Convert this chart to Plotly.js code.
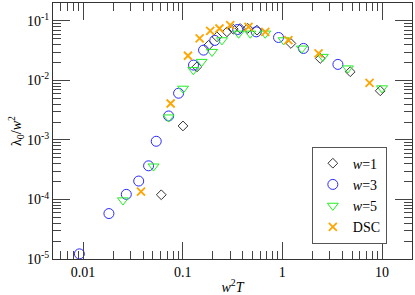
<!DOCTYPE html>
<html>
<head>
<meta charset="utf-8">
<script src="https://cdn.plot.ly/plotly-3.0.1.min.js"></script>
<style>html,body{margin:0;padding:0;background:#fff}</style>
</head>
<body>
<div id="chart" style="width:415px;height:295px;"></div>
<script>
// w=1 (diamonds)
var w1_x = [0.061, 0.1007, 0.139, 0.182, 0.221, 0.278, 0.322, 0.378, 0.45, 0.556, 1.22, 2.40, 4.80, 9.6];
var w1_y = [1.2e-4, 1.72e-3, 0.0169, 0.039, 0.054, 0.0655, 0.0726, 0.0746, 0.075, 0.070, 0.0418, 0.0234, 0.0140, 0.0067];
// w=3 (circles)
var w3_x = [0.0092, 0.0182, 0.0272, 0.0362, 0.0455, 0.0543, 0.0723, 0.091, 0.1285, 0.162, 0.21, 0.356, 0.547, 0.916, 1.63, 3.61];
var w3_y = [1.22e-5, 5.8e-5, 1.22e-4, 2.04e-4, 3.68e-4, 9.5e-4, 2.53e-3, 6.1e-3, 0.0181, 0.0323, 0.047, 0.0718, 0.0655, 0.0527, 0.0345, 0.0186];
// w=5 (triangles)
var w5_x = [0.0252, 0.051, 0.0723, 0.101, 0.128, 0.155, 0.197, 0.248, 0.364, 0.477, 0.674, 1.03, 1.57, 2.55, 4.55, 10.0];
var w5_y = [9.7e-5, 3.6e-4, 2.4e-3, 7.3e-3, 0.0150, 0.0206, 0.0303, 0.0475, 0.0615, 0.0615, 0.0615, 0.0475, 0.0345, 0.025, 0.016, 0.0074];
// DSC (crosses)
var dsc_x = [0.0382, 0.0757, 0.113, 0.148, 0.189, 0.234, 0.30, 0.458, 0.675, 1.15, 2.31, 7.5];
var dsc_y = [1.35e-4, 4.1e-3, 0.026, 0.0507, 0.068, 0.0746, 0.0848, 0.0794, 0.0655, 0.0475, 0.0285, 0.0091];

var xTickVals = [0.01, 0.1, 1, 10];
var xTickText = ['0.01', '0.1', '1', '10'];
var yTickVals = [1e-5, 1e-4, 1e-3, 1e-2, 1e-1];
var yTickText = ['10<sup>-5</sup>', '10<sup>-4</sup>', '10<sup>-3</sup>', '10<sup>-2</sup>', '10<sup>-1</sup>'];

function minors(lo, hi) {
  var out = [];
  for (var e = lo; e < hi; e++) {
    for (var k = 2; k <= 9; k++) out.push(k * Math.pow(10, e));
  }
  return out;
}

var serif = 'Liberation Serif, Times New Roman, serif';

var traces = [
  {x: w1_x, y: w1_y, mode: 'markers', name: '<i>w</i>=1', type: 'scatter',
   marker: {symbol: 'diamond-open', size: 7.5, color: '#333', line: {color: '#333', width: 1}}},
  {x: w3_x, y: w3_y, mode: 'markers', name: '<i>w</i>=3', type: 'scatter',
   marker: {symbol: 'circle-open', size: 10, color: '#2a2aff', line: {color: '#2a2aff', width: 1}}},
  {x: w5_x, y: w5_y, mode: 'markers', name: '<i>w</i>=5', type: 'scatter',
   marker: {symbol: 'triangle-down-open', size: 9.5, color: '#22ee22', line: {color: '#22ee22', width: 1}}},
  {x: dsc_x, y: dsc_y, mode: 'markers', name: 'DSC', type: 'scatter',
   marker: {symbol: 'x-thin', size: 8, color: '#ffa500', line: {color: '#ffa500', width: 1.8}}}
];

var layout = {
  width: 415, height: 295,
  margin: {l: 53, r: 3.3, t: 3, b: 35.7},
  paper_bgcolor: '#fff', plot_bgcolor: '#fff',
  showlegend: true,
  font: {family: serif, size: 14, color: '#000'},
  xaxis: {
    type: 'log', range: [Math.log10(0.005), Math.log10(20)],
    tickmode: 'array', tickvals: xTickVals, ticktext: xTickText,
    ticks: 'inside', ticklen: 17, tickwidth: 1, tickcolor: '#444',
    mirror: 'ticks', showline: true, linecolor: '#333', linewidth: 1,
    showgrid: false, zeroline: false,
    minor: {tickmode: 'array', tickvals: minors(-3, 2), ticks: 'inside', ticklen: 8, tickwidth: 1, tickcolor: '#444', showgrid: false},
    tickfont: {family: serif, size: 14},
    title: {text: '<i>w</i><sup>2</sup><i>T</i>', font: {family: serif, size: 14}, standoff: 4}
  },
  yaxis: {
    type: 'log', range: [-5, Math.log10(0.2)],
    tickmode: 'array', tickvals: yTickVals, ticktext: yTickText,
    ticks: 'inside', ticklen: 17, tickwidth: 1, tickcolor: '#444',
    mirror: 'ticks', showline: true, linecolor: '#333', linewidth: 1,
    showgrid: false, zeroline: false,
    minor: {tickmode: 'array', tickvals: minors(-6, 1), ticks: 'inside', ticklen: 8, tickwidth: 1, tickcolor: '#444', showgrid: false},
    tickfont: {family: serif, size: 14},
    title: {text: 'λ<sub>0</sub>/<i>w</i><sup>2</sup>', font: {family: serif, size: 14}, standoff: 2}
  },
  legend: {
    x: 0.721, y: 0.439, xanchor: 'left', yanchor: 'top',
    bgcolor: '#fff', bordercolor: '#555', borderwidth: 1,
    font: {family: serif, size: 14},
    itemwidth: 30
  }
};

Plotly.newPlot('chart', traces, layout, {displayModeBar: false, staticPlot: true});
</script>
</body>
</html>
